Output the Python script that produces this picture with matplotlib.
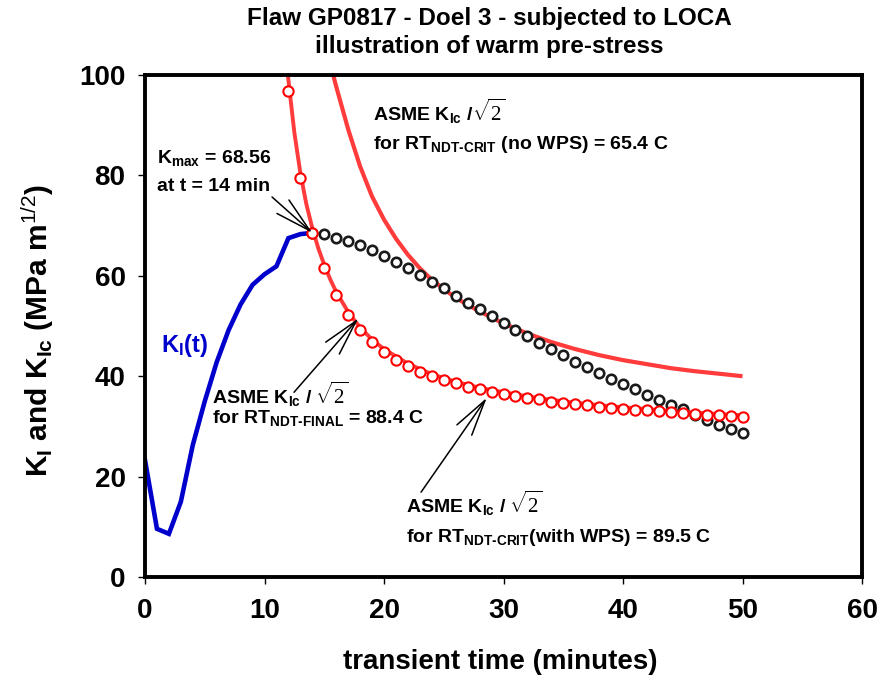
import matplotlib
matplotlib.use("Agg")
import matplotlib.pyplot as plt

plt.rcParams['font.family'] = ['Liberation Sans', 'DejaVu Sans']
plt.rcParams['mathtext.fontset'] = 'custom'
plt.rcParams['mathtext.rm'] = 'Liberation Serif'
plt.rcParams['mathtext.bf'] = 'Liberation Sans:bold'
plt.rcParams['mathtext.sf'] = 'Liberation Sans'
plt.rcParams['mathtext.it'] = 'Liberation Sans:italic'

# ---------------- data ----------------
t_ki = [0, 1, 2, 3, 4, 5, 6, 7, 8, 9, 10, 11, 12, 13, 14]
k_ki = [23.3, 9.6, 8.6, 15.0, 26.3, 35.0, 42.8, 49.2, 54.3, 58.2, 60.3, 61.9, 67.5, 68.3, 68.56]

t_ki_after = list(range(14, 51))
k_ki_after = [68.56, 68.3, 67.6, 67.0, 66.2, 65.2, 63.9, 62.8, 61.5, 60.2, 58.8, 57.5, 56.0,
              54.6, 53.3, 52.0, 50.5, 49.2, 48.0, 46.7, 45.4, 44.2, 42.9, 41.8, 40.7, 39.4,
              38.4, 37.4, 36.3, 35.3, 34.3, 33.4, 32.3, 31.3, 30.3, 29.5, 28.6]

t_wps = list(range(12, 51))
k_wps = [96.9, 79.4, 68.5, 61.5, 56.2, 52.2, 49.2, 46.8,
         44.9, 43.2, 42.0, 40.9, 40.0, 39.2, 38.6, 37.9, 37.4, 36.9, 36.5, 36.1, 35.7,
         35.4, 34.9, 34.7, 34.4, 34.2, 33.9, 33.7, 33.5, 33.3, 33.2, 33.0, 32.8, 32.7,
         32.5, 32.3, 32.2, 32.0, 31.9]

t_final = [11.9, 12, 12.5, 13, 13.5, 14, 14.5, 15, 15.5, 16, 17, 18, 19, 20, 22, 24, 26,
           28, 30, 33, 36, 40, 44, 47, 50]
k_final = [101.5, 99.0, 88.5, 80.5, 74.3, 69.5, 65.5, 62.2, 59.3, 56.8, 52.8, 49.7, 47.3,
           45.4, 42.5, 40.4, 38.9, 37.7, 36.8, 35.6, 34.7, 33.8, 33.1, 32.6, 32.2]

t_nowps = [15.75, 16, 17, 18, 19, 20, 21, 22, 23, 24, 26, 28, 30, 32, 34, 36, 38, 40, 42,
           44, 46, 48, 50]
k_nowps = [100.0, 97.7, 89.2, 81.8, 75.8, 71.2, 67.4, 64.2, 61.5, 59.2, 55.6, 52.9, 50.5,
           48.5, 46.8, 45.4, 44.2, 43.2, 42.4, 41.6, 41.0, 40.5, 40.0]

t_max = 14
k_max = 68.56

x_ticks = [0, 10, 20, 30, 40, 50, 60]
y_ticks = [0, 20, 40, 60, 80, 100]

title_lines = ["Flaw GP0817 - Doel 3 - subjected to LOCA", "illustration of warm pre-stress"]

HY = '\u2011'  # non-breaking hyphen for subscripts

# ---------------- figure ----------------
W, H = 879, 683
fig = plt.figure(figsize=(W / 100, H / 100), dpi=100)
ax = fig.add_axes([145 / W, 1 - 577 / H, 717 / W, 502 / H])

red_line = '#FF3B3B'
ax.plot(t_nowps, k_nowps, color=red_line, lw=3.0, zorder=2, solid_capstyle='butt')
ax.plot(t_final, k_final, color=red_line, lw=2.8, zorder=2, solid_capstyle='butt')
ax.plot(t_ki, k_ki, color='#0000CC', lw=3.3, zorder=3, solid_joinstyle='miter')
ax.plot(t_ki_after, k_ki_after, ls='none', marker='o', ms=6.8, mew=1.9,
        mfc='white', mec='#1a1a1a', zorder=4)
ax.plot(t_wps, k_wps, ls='none', marker='o', ms=7.4, mew=1.5,
        mfc='white', mec='#FF0000', zorder=5)

ax.set_xlim(0, 60)
ax.set_ylim(0, 100)
ax.set_xticks(x_ticks)
ax.set_yticks(y_ticks)
for s in ax.spines.values():
    s.set_linewidth(2.8)
    s.set_zorder(6)
ax.tick_params(direction='out', length=5, width=1.0, labelsize=20)
ax.tick_params(axis='x', pad=10)
ax.tick_params(axis='y', pad=9)
for lab in ax.get_xticklabels() + ax.get_yticklabels():
    lab.set_fontweight('bold')

# titles and axis labels
fig.text(489 / W, 1 - 18 / H, title_lines[0], ha='center', va='center', fontsize=17.5,
         fontweight='bold')
fig.text(489 / W, 1 - 46 / H, title_lines[1], ha='center', va='center', fontsize=17.5,
         fontweight='bold')
fig.text(500 / W, 1 - 662 / H, 'transient time (minutes)', ha='center', va='center',
         fontsize=20, fontweight='bold')
fig.text(38 / W, 1 - 330 / H, r'K$_{\bf I}$ and K$_{\bf Ic}$ (MPa m$^{\sf 1/2}$)',
         ha='center', va='center', rotation=90, fontsize=21.5, fontweight='bold')

# annotations
fs = 14
sq = 15
ax.text(1.03, 82.5, r'K$_{\bf max}$ = 68.56', fontsize=fs, fontweight='bold', va='baseline')
ax.text(1.03, 76.9, 'at t = 14 min', fontsize=fs, fontweight='bold', va='baseline')

ax.text(19.1, 91.0, r'ASME K$_{\bf Ic}$ /', fontsize=fs, fontweight='bold', va='baseline')
ax.text(27.4, 90.8, r'$\sqrt{2}$', fontsize=sq, va='baseline')
ax.text(19.1, 85.2, r'for RT$_{\bf NDT' + HY + r'CRIT}$ (no WPS) = 65.4 C', fontsize=fs,
        fontweight='bold', va='baseline')

ax.text(5.63, 34.6, r'ASME K$_{\bf Ic}$ /', fontsize=fs, fontweight='bold', va='baseline')
ax.text(14.2, 34.4, r'$\sqrt{2}$', fontsize=sq, va='baseline')
ax.text(5.63, 30.7, r'for RT$_{\bf NDT' + HY + r'FINAL}$ = 88.4 C', fontsize=fs,
        fontweight='bold', va='baseline')

ax.text(21.8, 13.0, r'ASME K$_{\bf Ic}$ /', fontsize=fs, fontweight='bold', va='baseline')
ax.text(30.5, 12.8, r'$\sqrt{2}$', fontsize=sq, va='baseline')
ax.text(21.8, 7.0, r'for RT$_{\bf NDT' + HY + r'CRIT}$(with WPS) = 89.5 C', fontsize=fs,
        fontweight='bold', va='baseline')

ax.text(1.3, 44.9, r'K$_{\bf I}$(t)', fontsize=17, fontweight='bold', color='#0000CC', va='baseline')

arrow_kw = dict(arrowstyle='->,head_length=2.6,head_width=0.65', mutation_scale=10,
                lw=1.1, color='black', shrinkA=0, shrinkB=0)
ax.annotate('', xy=(t_max, k_max), xytext=(10.63, 75.7), arrowprops=arrow_kw, zorder=7)
ax.annotate('', xy=(17.85, 51.5), xytext=(12.47, 36.8), arrowprops=arrow_kw, zorder=7)
ax.annotate('', xy=(28.6, 35.7), xytext=(23.1, 16.9), arrowprops=arrow_kw, zorder=7)

fig.savefig('out.png', dpi=100)
